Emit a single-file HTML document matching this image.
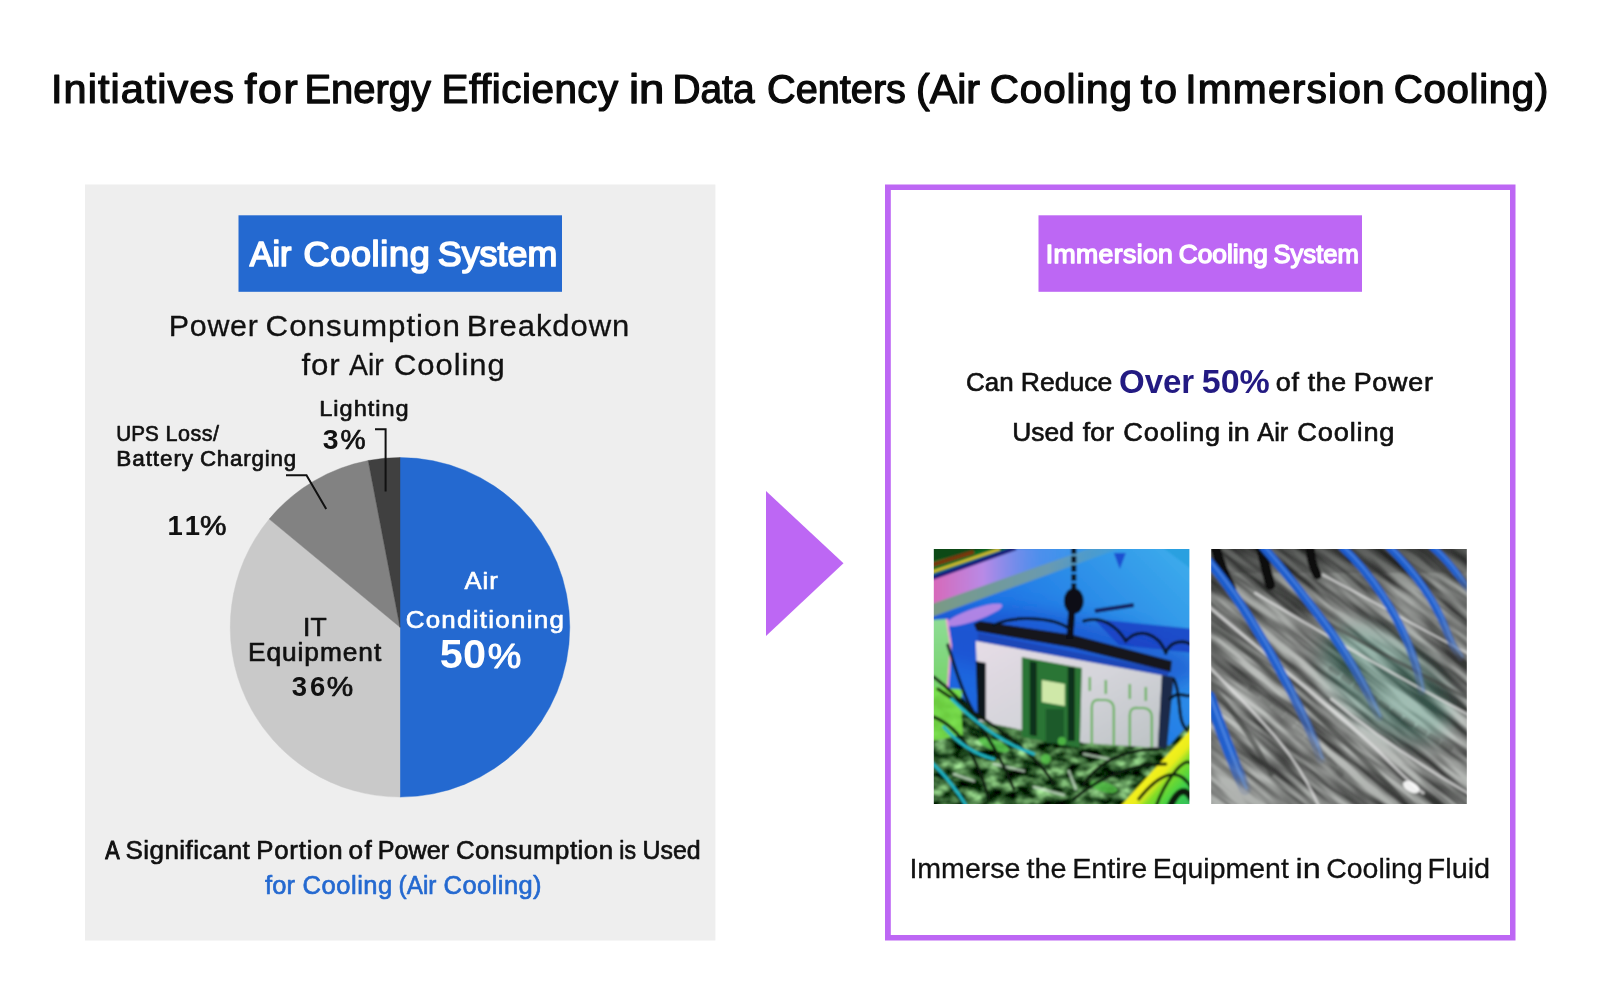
<!DOCTYPE html>
<html><head><meta charset="utf-8"><title>Initiatives for Energy Efficiency in Data Centers</title>
<style>html,body{margin:0;padding:0;background:#fff;}body{width:1600px;height:987px;overflow:hidden;font-family:"Liberation Sans", sans-serif;}svg{display:block}</style>
</head><body>
<svg width="1600" height="987" viewBox="0 0 1600 987" font-family='"Liberation Sans", sans-serif'>
<defs><filter id="noaa" filterUnits="userSpaceOnUse" x="0" y="0" width="1600" height="987"><feOffset dx="0" dy="0"/></filter>
<linearGradient id="lpBase" x1="1" y1="0" x2="0" y2="1"><stop offset="0" stop-color="#3fb0ec"/><stop offset="0.45" stop-color="#2179e6"/><stop offset="1" stop-color="#1c50d6"/></linearGradient>
<linearGradient id="lpPink" x1="0" y1="0" x2="1" y2="0"><stop offset="0" stop-color="#d868b8"/><stop offset="0.3" stop-color="#b88ae6"/><stop offset="0.62" stop-color="#5f92ee" stop-opacity="0.7"/><stop offset="1" stop-color="#4a9ff0" stop-opacity="0"/></linearGradient>
<linearGradient id="lpStripe" x1="0" y1="0" x2="1" y2="0"><stop offset="0" stop-color="#7a9a84"/><stop offset="0.6" stop-color="#6a9ab0"/><stop offset="1" stop-color="#4aa0d0" stop-opacity="0.5"/></linearGradient>
<linearGradient id="lpFace" x1="0" y1="0" x2="1" y2="1"><stop offset="0" stop-color="#e6dce6"/><stop offset="0.5" stop-color="#d4d4da"/><stop offset="1" stop-color="#bcc2c4"/></linearGradient>
<linearGradient id="lpYG" x1="0" y1="0" x2="1" y2="1"><stop offset="0.5" stop-color="#f6f21c"/><stop offset="0.585" stop-color="#e8ec1e"/><stop offset="0.66" stop-color="#7fdc28"/><stop offset="0.8" stop-color="#3fd04a"/><stop offset="1" stop-color="#2fb860"/></linearGradient>
<linearGradient id="lpLeftG" x1="0" y1="0" x2="0" y2="1"><stop offset="0" stop-color="#8fdc96"/><stop offset="1" stop-color="#62cc48"/></linearGradient>
<linearGradient id="rpBase" x1="0" y1="0" x2="0" y2="1"><stop offset="0" stop-color="#444644"/><stop offset="0.18" stop-color="#6a6c6a"/><stop offset="0.6" stop-color="#7e807e"/><stop offset="1" stop-color="#707270"/></linearGradient>
<filter id="phBlur" x="-5%" y="-5%" width="110%" height="110%"><feGaussianBlur stdDeviation="1.1"/></filter>
<filter id="phBlur3" x="-30%" y="-30%" width="160%" height="160%"><feGaussianBlur stdDeviation="9"/></filter>
<filter id="phBlur2" x="-5%" y="-5%" width="110%" height="110%"><feGaussianBlur stdDeviation="2.2"/></filter>
<filter id="gTex" color-interpolation-filters="sRGB" x="0" y="0" width="100%" height="100%">
  <feTurbulence type="fractalNoise" baseFrequency="0.06 0.10" numOctaves="4" seed="7" result="n"/>
  <feColorMatrix in="n" type="matrix" values="1.5 0 0 0 -0.53  1.8 0 0 0 -0.50  1.35 0 0 0 -0.47  0 0 0 0 1" result="c"/>
  <feComposite in="c" in2="SourceGraphic" operator="in"/>
</filter>
<filter id="rTex" color-interpolation-filters="sRGB" x="0" y="0" width="100%" height="100%">
  <feTurbulence type="fractalNoise" baseFrequency="0.012 0.11" numOctaves="3" seed="11" result="n"/>
  <feColorMatrix in="n" type="matrix" values="2.2 0 0 0 -0.55  2.2 0 0 0 -0.55  2.2 0 0 0 -0.55  0 0 0 0 1" result="c"/>
  <feComposite in="c" in2="SourceGraphic" operator="in"/>
</filter>
<clipPath id="clipL"><rect x="0" y="0" width="255.6" height="255"/></clipPath>
<clipPath id="clipR"><rect x="0" y="0" width="255.6" height="255"/></clipPath>
</defs>
<rect width="1600" height="987" fill="#ffffff"/>
<!-- left panel -->
<rect x="85" y="184.5" width="630.4" height="756" fill="#eeeeee"/>
<rect x="238.5" y="215.3" width="323.5" height="76.5" fill="#2469d0"/>
<path d="M400,627.3 L400.00,457.50 A169.8,169.8 0 0 1 400.00,797.10 Z" fill="#2469d0" stroke="#2469d0" stroke-width="0.4"/>
<path d="M400,627.3 L400.00,797.10 A169.8,169.8 0 0 1 269.17,519.07 Z" fill="#c9c9c9" stroke="#c9c9c9" stroke-width="0.4"/>
<path d="M400,627.3 L269.17,519.07 A169.8,169.8 0 0 1 368.18,460.51 Z" fill="#828282" stroke="#828282" stroke-width="0.4"/>
<path d="M400,627.3 L368.18,460.51 A169.8,169.8 0 0 1 400.00,457.50 Z" fill="#404040" stroke="#404040" stroke-width="0.4"/>
<path d="M375,429.2 H385.6 V491.4" fill="none" stroke="#111" stroke-width="2"/>
<path d="M286,475.2 H306.5 L326.2,509" fill="none" stroke="#111" stroke-width="2"/>
<!-- arrow -->
<path d="M766,491 L843.5,563.3 L766,636 Z" fill="#bd67f4"/>
<!-- right panel -->
<path d="M885,184.5 H1515.5 V940.4 H885 Z M890.8,190 V935 H1510 V190 Z" fill="#bd67f4" fill-rule="evenodd"/>
<rect x="1038.5" y="215.3" width="323.5" height="76.5" fill="#bd67f4"/>
<g transform="translate(933.8,549)" clip-path="url(#clipL)"><g filter="url(#phBlur)">
<rect x="-4" y="-4" width="264" height="264" fill="url(#lpBase)"/>
<polygon points="160,70 260,80 260,104 185,96" fill="#1a3cc2" opacity="0.8"/>
<polygon points="228,-2 260,-2 260,22" fill="#2aa0e0"/>
<ellipse cx="120" cy="100" rx="150" ry="34" transform="rotate(8 120 100)" fill="#123cc4" opacity="0.5" filter="url(#phBlur3)"/>
<!-- pink band + stripe -->
<polygon points="-2,30 84,0 170,-2 -2,58" fill="url(#lpPink)"/>
<polygon points="-2,0 78,-2 -2,26" fill="#0f6a22"/>
<polygon points="-2,-2 60,-2 -2,12" fill="#0a4a14"/><line x1="-2" y1="23" x2="66" y2="0" stroke="#d8c030" stroke-width="2.5"/>
<line x1="-2" y1="16" x2="40" y2="3" stroke="#7a3410" stroke-width="4"/>
<line x1="-2" y1="29" x2="82" y2="-1" stroke="#131d78" stroke-width="4"/>
<polygon points="-2,55 160,-2 190,-2 -2,68" fill="url(#lpStripe)"/>
<ellipse cx="40" cy="66" rx="30" ry="6" transform="rotate(-19 40 66)" fill="#c98be6" opacity="0.85"/>
<!-- left green -->
<polygon points="-2,71 13,70 17,96 14,140 28,141 30,186 -2,192" fill="url(#lpLeftG)"/>
<polyline points="13,70 17,96 14,140" fill="none" stroke="#f0a0d0" stroke-width="2"/>
<!-- bottom tangle -->
<polygon points="-2,150 14,140 30,150 45,170 226,198 236,196 260,170 260,260 -2,260" fill="#1c3a24"/>
<polygon points="-2,150 14,140 30,150 45,170 226,198 236,196 260,170 260,260 -2,260" fill="#ffffff" filter="url(#gTex)" opacity="0.9"/>
<polygon points="-2,138 26,140 29,186 -2,192" fill="#78e048" opacity="0.9"/>
<!-- box -->
<polygon points="44,84 236,122 232,130 44,94" fill="#1b46b8"/>
<polygon points="42,92 232,127 226,199 150,194 45,172" fill="url(#lpFace)"/>
<polygon points="42,112 52,114 52,172 44,170" fill="#0e161c"/>
<polygon points="88,108 148,119 146,199 88,188" fill="#2c7434"/>
<polygon points="108,131 131,135 131,157 108,153" fill="#cfe8a8"/>
<rect x="96" y="112" width="7" height="74" fill="#10331a" transform="skewY(10) translate(0,-17)"/>
<rect x="134" y="118" width="7" height="74" fill="#10331a"/>
<rect x="112" y="160" width="18" height="34" fill="#1c5a2a"/>
<g fill="none" stroke="#62b055" stroke-width="2.2">
<path d="M158,196 V158 Q158,150 166,151 H172 Q180,152 180,160 V197"/>
<path d="M196,197 V166 Q196,158 204,159 H210 Q218,160 218,168 V198"/>
<path d="M156,128 V142 M172,131 V145 M196,135 V150 M212,138 V152"/>
</g>
<polygon points="228,126 240,128 233,200 224,198" fill="#1e2c48"/>
<polygon points="40,75 46,72 140,86 238,112 237,123 140,99 43,82" fill="#15151c"/>
<!-- chain / hook -->
<line x1="140" y1="-2" x2="140" y2="40" stroke="#0b1322" stroke-width="5" stroke-dasharray="7 2"/>
<ellipse cx="140" cy="52" rx="10" ry="13" fill="#0a0f18"/>
<line x1="138" y1="62" x2="136" y2="90" stroke="#0a0f18" stroke-width="7"/>
<polygon points="180,4 192,4 186,20" fill="#1f4fd0"/>
<line x1="161" y1="62" x2="200" y2="56" stroke="#131f5c" stroke-width="4"/>
<!-- cables -->
<g fill="none" stroke="#0b1420" stroke-width="3" stroke-linecap="round">
<path d="M60,76 C80,66 120,68 136,80"/>
<path d="M150,72 C170,66 185,80 192,92 C205,78 225,84 232,104"/>
<path d="M232,104 C236,92 250,90 258,96"/>
<path d="M240,130 C250,150 240,175 258,185"/>
<path d="M236,150 C246,140 252,150 258,146"/>
<path d="M14,96 C22,120 30,150 44,170"/>
</g>
<g fill="none" stroke="#d8e8d8" stroke-width="2.5" stroke-linecap="round" opacity="0.7">
<path d="M135,222 L142,240"/><path d="M60,215 L90,222"/><path d="M100,238 L130,246"/><path d="M20,225 L40,232"/><path d="M150,205 L175,210"/>
</g>
<g fill="#58c84a" opacity="0.8"><circle cx="112" cy="210" r="5"/><circle cx="128" cy="192" r="4"/><ellipse cx="170" cy="238" rx="14" ry="5" transform="rotate(15 170 238)"/><ellipse cx="60" cy="196" rx="16" ry="5" transform="rotate(20 60 196)"/></g>
<!-- yellow-green band -->
<polygon points="184,260 260,177 260,260" fill="url(#lpYG)"/>
<g fill="none" stroke="#0b1a10" stroke-width="3" stroke-linecap="round">
<path d="M205,250 C225,225 245,215 258,240"/><path d="M236,258 C244,240 252,238 258,250" stroke-width="7"/><path d="M222,258 C230,235 250,205 258,215"/>
<path d="M150,235 C170,205 205,200 225,200"/><path d="M140,250 C170,225 200,215 232,215"/>
<path d="M0,128 C30,150 60,190 80,240"/><path d="M0,168 C30,180 45,215 55,250"/><path d="M4,140 C50,170 100,200 120,235"/>
</g>
<g fill="none" stroke="#1fb4c4" stroke-width="3" stroke-linecap="round">
<path d="M18,150 C40,172 70,195 100,205"/><path d="M-2,214 C12,226 26,246 32,256"/><path d="M10,178 C25,195 40,205 60,210"/>
</g>
</g></g>
<g transform="translate(1211.2,549)" clip-path="url(#clipR)"><g filter="url(#phBlur)">
<rect x="-4" y="-4" width="264" height="264" fill="url(#rpBase)"/>
<g transform="rotate(38 128 128)"><rect x="-80" y="-80" width="420" height="420" fill="#fff" filter="url(#rTex)" opacity="0.55" style="mix-blend-mode:overlay"/></g>
<ellipse cx="175" cy="135" rx="75" ry="42" transform="rotate(38 175 135)" fill="#2fa582" opacity="0.22" filter="url(#phBlur3)"/>
<g fill="none" stroke="#e2e2e2" stroke-linecap="round" opacity="0.75">
<path d="M-2,58 C30,85 60,110 90,135 S150,185 170,205 S200,235 212,244" stroke-width="3"/>
<path d="M44,44 C90,72 130,95 160,112 S220,146 258,166" stroke-width="2.5"/>
<path d="M-2,118 C25,145 50,170 70,195 S100,240 108,258" stroke-width="2.5"/>
<path d="M100,20 C150,45 200,75 258,105" stroke-width="2"/>
<path d="M120,150 C150,175 190,205 258,245" stroke-width="2.5"/>
</g>
<g fill="none" stroke="#3a3c3a" stroke-linecap="round" opacity="0.6">
<path d="M-2,75 C40,105 80,140 110,170 S170,225 190,250" stroke-width="5"/>
<path d="M60,40 C110,70 160,100 258,150" stroke-width="4"/>
<path d="M-2,135 C25,165 45,195 60,225" stroke-width="5"/>
<path d="M40,140 C70,160 100,190 130,225" stroke-width="6" stroke-dasharray="9 6" opacity="0.5"/>
<path d="M120,120 C150,140 190,170 240,200" stroke-width="6" stroke-dasharray="8 7" opacity="0.5"/>
</g>
<rect x="-2" y="-2" width="260" height="26" fill="#1a1a1a" opacity="0.22"/>
<g stroke="#0c0c0c" stroke-linecap="round" fill="none"><path d="M4,-2 C8,12 14,28 20,40" stroke-width="10"/><path d="M50,-2 C52,10 56,24 59,36" stroke-width="10"/><path d="M99,-2 C99,8 102,18 106,26" stroke-width="9"/><path d="M132,-2 L140,10" stroke-width="7" opacity="0.6"/></g>
<g fill="none" stroke-linecap="round"><defs><linearGradient id="cg0" gradientUnits="userSpaceOnUse" x1="0" y1="13" x2="110" y2="210"><stop offset="0" stop-color="#1d5ccc"/><stop offset="0.6" stop-color="#2260cc"/><stop offset="0.85" stop-color="#3a62b4" stop-opacity="0.75"/><stop offset="1" stop-color="#5a6c98" stop-opacity="0.25"/></linearGradient><linearGradient id="cg1" gradientUnits="userSpaceOnUse" x1="52" y1="0" x2="168" y2="168"><stop offset="0" stop-color="#1d5ccc"/><stop offset="0.6" stop-color="#2260cc"/><stop offset="0.85" stop-color="#3a62b4" stop-opacity="0.75"/><stop offset="1" stop-color="#5a6c98" stop-opacity="0.25"/></linearGradient><linearGradient id="cg2" gradientUnits="userSpaceOnUse" x1="131" y1="0" x2="211" y2="142"><stop offset="0" stop-color="#1d5ccc"/><stop offset="0.6" stop-color="#2260cc"/><stop offset="0.85" stop-color="#3a62b4" stop-opacity="0.75"/><stop offset="1" stop-color="#5a6c98" stop-opacity="0.25"/></linearGradient><linearGradient id="cg3" gradientUnits="userSpaceOnUse" x1="178" y1="0" x2="250" y2="108"><stop offset="0" stop-color="#1d5ccc"/><stop offset="0.6" stop-color="#2260cc"/><stop offset="0.85" stop-color="#3a62b4" stop-opacity="0.75"/><stop offset="1" stop-color="#5a6c98" stop-opacity="0.25"/></linearGradient><linearGradient id="cg4" gradientUnits="userSpaceOnUse" x1="221" y1="0" x2="258" y2="42"><stop offset="0" stop-color="#1d5ccc"/><stop offset="0.6" stop-color="#2260cc"/><stop offset="0.85" stop-color="#3a62b4" stop-opacity="0.75"/><stop offset="1" stop-color="#5a6c98" stop-opacity="0.25"/></linearGradient><linearGradient id="cg5" gradientUnits="userSpaceOnUse" x1="0" y1="148" x2="34" y2="240"><stop offset="0" stop-color="#1d5ccc"/><stop offset="0.6" stop-color="#2260cc"/><stop offset="0.85" stop-color="#3a62b4" stop-opacity="0.75"/><stop offset="1" stop-color="#5a6c98" stop-opacity="0.25"/></linearGradient></defs><path d="M-2,13 C25,45 55,95 79,141 S104,195 110,210" stroke="url(#cg0)" stroke-width="9"/><path d="M-2,13 C25,45 55,95 79,141 S104,195 110,210" stroke="#6a9ff0" stroke-width="2.2" opacity="0.5" transform="translate(1.2,-0.6)"/><path d="M52,-2 C80,30 115,75 131,100 S160,150 168,168" stroke="url(#cg1)" stroke-width="8.5"/><path d="M52,-2 C80,30 115,75 131,100 S160,150 168,168" stroke="#6a9ff0" stroke-width="2.1" opacity="0.5" transform="translate(1.2,-0.6)"/><path d="M131,-2 C160,25 185,65 197,95 S208,130 211,142" stroke="url(#cg2)" stroke-width="8"/><path d="M131,-2 C160,25 185,65 197,95 S208,130 211,142" stroke="#6a9ff0" stroke-width="2.0" opacity="0.5" transform="translate(1.2,-0.6)"/><path d="M178,-2 C205,25 225,55 235,81 S246,100 250,108" stroke="url(#cg3)" stroke-width="7.5"/><path d="M178,-2 C205,25 225,55 235,81 S246,100 250,108" stroke="#6a9ff0" stroke-width="1.9" opacity="0.5" transform="translate(1.2,-0.6)"/><path d="M221,-2 C238,12 250,30 258,42" stroke="url(#cg4)" stroke-width="7"/><path d="M221,-2 C238,12 250,30 258,42" stroke="#6a9ff0" stroke-width="1.8" opacity="0.5" transform="translate(1.2,-0.6)"/><path d="M-2,148 C8,175 20,210 34,240" stroke="url(#cg5)" stroke-width="12"/><path d="M-2,148 C8,175 20,210 34,240" stroke="#6a9ff0" stroke-width="3.0" opacity="0.5" transform="translate(1.2,-0.6)"/></g>
<ellipse cx="200" cy="238" rx="9" ry="5" transform="rotate(30 200 238)" fill="#ffffff" opacity="0.9"/>
</g></g>
<g filter="url(#noaa)">
<text transform="translate(51.02 102.70) scale(1.0386 1)" font-size="39.87" font-weight="normal" fill="#0a0a0a" stroke="#0a0a0a" stroke-width="1.25" stroke-linejoin="round" textLength="176.22" lengthAdjust="spacing">Initiatives</text>
<text transform="translate(244.49 102.70) scale(1.0697 1)" font-size="39.87" font-weight="normal" fill="#0a0a0a" stroke="#0a0a0a" stroke-width="1.25" stroke-linejoin="round" textLength="49.71" lengthAdjust="spacing">for</text>
<text x="304.45" y="102.70" font-size="39.87" font-weight="normal" fill="#0a0a0a" stroke="#0a0a0a" stroke-width="1.25" stroke-linejoin="round" textLength="126.48" lengthAdjust="spacingAndGlyphs">Energy</text>
<text transform="translate(441.53 102.70) scale(1.0137 1)" font-size="39.87" font-weight="normal" fill="#0a0a0a" stroke="#0a0a0a" stroke-width="1.25" stroke-linejoin="round" textLength="174.35" lengthAdjust="spacing">Efficiency</text>
<text x="628.92" y="102.70" font-size="39.87" font-weight="normal" fill="#0a0a0a" stroke="#0a0a0a" stroke-width="1.25" stroke-linejoin="round" textLength="35.39" lengthAdjust="spacingAndGlyphs">in</text>
<text x="672.49" y="102.70" font-size="39.87" font-weight="normal" fill="#0a0a0a" stroke="#0a0a0a" stroke-width="1.25" stroke-linejoin="round" textLength="82.00" lengthAdjust="spacingAndGlyphs">Data</text>
<text x="767.07" y="102.70" font-size="39.87" font-weight="normal" fill="#0a0a0a" stroke="#0a0a0a" stroke-width="1.25" stroke-linejoin="round" textLength="138.90" lengthAdjust="spacingAndGlyphs">Centers</text>
<text x="916.00" y="102.70" font-size="39.87" font-weight="normal" fill="#0a0a0a" stroke="#0a0a0a" stroke-width="1.25" stroke-linejoin="round" textLength="64.08" lengthAdjust="spacingAndGlyphs">(Air</text>
<text transform="translate(989.78 102.70) scale(1.0132 1)" font-size="39.87" font-weight="normal" fill="#0a0a0a" stroke="#0a0a0a" stroke-width="1.25" stroke-linejoin="round" textLength="140.30" lengthAdjust="spacing">Cooling</text>
<text transform="translate(1140.80 102.70) scale(1.0263 1)" font-size="39.87" font-weight="normal" fill="#0a0a0a" stroke="#0a0a0a" stroke-width="1.25" stroke-linejoin="round" textLength="35.28" lengthAdjust="spacing">to</text>
<text transform="translate(1185.19 102.70) scale(1.0224 1)" font-size="39.87" font-weight="normal" fill="#0a0a0a" stroke="#0a0a0a" stroke-width="1.25" stroke-linejoin="round" textLength="195.16" lengthAdjust="spacing">Immersion</text>
<text transform="translate(1393.68 102.70) scale(1.0096 1)" font-size="39.87" font-weight="normal" fill="#0a0a0a" stroke="#0a0a0a" stroke-width="1.25" stroke-linejoin="round" textLength="153.20" lengthAdjust="spacing">Cooling)</text>
<text x="249.80" y="265.90" font-size="35.55" font-weight="normal" fill="#ffffff" stroke="#ffffff" stroke-width="1.7" stroke-linejoin="round" textLength="41.63" lengthAdjust="spacingAndGlyphs">Air</text>
<text transform="translate(303.48 265.90) scale(1.0131 1)" font-size="35.55" font-weight="normal" fill="#ffffff" stroke="#ffffff" stroke-width="1.7" stroke-linejoin="round" textLength="124.59" lengthAdjust="spacing">Cooling</text>
<text x="437.80" y="265.90" font-size="35.55" font-weight="normal" fill="#ffffff" stroke="#ffffff" stroke-width="1.7" stroke-linejoin="round" textLength="119.49" lengthAdjust="spacingAndGlyphs">System</text>
<text transform="translate(168.69 335.85) scale(1.0017 1)" font-size="30.38" font-weight="normal" fill="#111111" stroke="#111111" stroke-width="0.3" stroke-linejoin="round" textLength="89.05" lengthAdjust="spacing">Power</text>
<text transform="translate(265.56 335.85) scale(1.0330 1)" font-size="30.38" font-weight="normal" fill="#111111" stroke="#111111" stroke-width="0.3" stroke-linejoin="round" textLength="188.10" lengthAdjust="spacing">Consumption</text>
<text transform="translate(466.65 335.85) scale(1.0212 1)" font-size="30.38" font-weight="normal" fill="#111111" stroke="#111111" stroke-width="0.3" stroke-linejoin="round" textLength="159.28" lengthAdjust="spacing">Breakdown</text>
<text transform="translate(301.58 374.50) scale(1.0289 1)" font-size="30.38" font-weight="normal" fill="#111111" stroke="#111111" stroke-width="0.3" stroke-linejoin="round" textLength="36.98" lengthAdjust="spacing">for</text>
<text x="349.03" y="374.50" font-size="30.38" font-weight="normal" fill="#111111" stroke="#111111" stroke-width="0.3" stroke-linejoin="round" textLength="34.68" lengthAdjust="spacingAndGlyphs">Air</text>
<text transform="translate(394.05 374.50) scale(1.0213 1)" font-size="30.38" font-weight="normal" fill="#111111" stroke="#111111" stroke-width="0.3" stroke-linejoin="round" textLength="108.32" lengthAdjust="spacing">Cooling</text>
<text transform="translate(319.30 416.40) scale(1.0485 1)" font-size="22.49" font-weight="normal" fill="#111111" stroke="#111111" stroke-width="0.65" stroke-linejoin="round" textLength="85.21" lengthAdjust="spacing">Lighting</text>
<text x="322.66" y="449.10" font-size="26.74" font-weight="bold" fill="#111111" textLength="15.77" lengthAdjust="spacingAndGlyphs">3</text>
<text x="340.59" y="449.10" font-size="27.21" font-weight="normal" fill="#111111" stroke="#111111" stroke-width="0.7" stroke-linejoin="round" textLength="25.10" lengthAdjust="spacingAndGlyphs">%</text>
<text x="116.37" y="441.40" font-size="21.29" font-weight="normal" fill="#111111" stroke="#111111" stroke-width="0.65" stroke-linejoin="round" textLength="42.46" lengthAdjust="spacingAndGlyphs">UPS</text>
<text transform="translate(165.54 441.40) scale(1.0120 1)" font-size="21.29" font-weight="normal" fill="#111111" stroke="#111111" stroke-width="0.65" stroke-linejoin="round" textLength="52.77" lengthAdjust="spacing">Loss/</text>
<text transform="translate(116.26 466.40) scale(1.0588 1)" font-size="21.29" font-weight="normal" fill="#111111" stroke="#111111" stroke-width="0.65" stroke-linejoin="round" textLength="72.54" lengthAdjust="spacing">Battery</text>
<text transform="translate(199.89 466.40) scale(1.0465 1)" font-size="21.29" font-weight="normal" fill="#111111" stroke="#111111" stroke-width="0.65" stroke-linejoin="round" textLength="91.99" lengthAdjust="spacing">Charging</text>
<text transform="translate(167.61 534.80) scale(1.0248 1)" font-size="26.85" font-weight="bold" fill="#111111" textLength="31.62" lengthAdjust="spacing">11</text>
<text x="199.97" y="534.80" font-size="27.21" font-weight="normal" fill="#111111" stroke="#111111" stroke-width="0.7" stroke-linejoin="round" textLength="26.48" lengthAdjust="spacingAndGlyphs">%</text>
<text transform="translate(464.51 589.40) scale(1.0723 1)" font-size="23.81" font-weight="normal" fill="#ffffff" stroke="#ffffff" stroke-width="0.65" stroke-linejoin="round" textLength="31.11" lengthAdjust="spacing">Air</text>
<text transform="translate(405.68 628.30) scale(1.0895 1)" font-size="23.81" font-weight="normal" fill="#ffffff" stroke="#ffffff" stroke-width="0.65" stroke-linejoin="round" textLength="145.15" lengthAdjust="spacing">Conditioning</text>
<text x="439.87" y="668.10" font-size="40.55" font-weight="bold" fill="#ffffff" textLength="46.15" lengthAdjust="spacingAndGlyphs">50</text>
<text x="487.89" y="668.10" font-size="35.68" font-weight="normal" fill="#ffffff" stroke="#ffffff" stroke-width="1.0" stroke-linejoin="round" textLength="33.58" lengthAdjust="spacingAndGlyphs">%</text>
<text x="303.04" y="636.20" font-size="25.10" font-weight="normal" fill="#111111" stroke="#111111" stroke-width="0.65" stroke-linejoin="round" textLength="23.57" lengthAdjust="spacingAndGlyphs">IT</text>
<text transform="translate(247.99 661.40) scale(1.0476 1)" font-size="25.10" font-weight="normal" fill="#111111" stroke="#111111" stroke-width="0.65" stroke-linejoin="round" textLength="127.16" lengthAdjust="spacing">Equipment</text>
<text transform="translate(291.71 696.30) scale(1.0277 1)" font-size="26.74" font-weight="bold" fill="#111111" textLength="32.58" lengthAdjust="spacing">36</text>
<text x="326.79" y="696.30" font-size="27.21" font-weight="normal" fill="#111111" stroke="#111111" stroke-width="0.7" stroke-linejoin="round" textLength="26.45" lengthAdjust="spacingAndGlyphs">%</text>
<text transform="translate(125.57 858.90) scale(1.0283 1)" font-size="25.32" font-weight="normal" fill="#111111" stroke="#111111" stroke-width="0.65" stroke-linejoin="round" textLength="120.81" lengthAdjust="spacing">Significant</text>
<text transform="translate(256.15 858.90) scale(1.0199 1)" font-size="25.32" font-weight="normal" fill="#111111" stroke="#111111" stroke-width="0.65" stroke-linejoin="round" textLength="84.87" lengthAdjust="spacing">Portion</text>
<text transform="translate(348.52 858.90) scale(1.0349 1)" font-size="25.32" font-weight="normal" fill="#111111" stroke="#111111" stroke-width="0.65" stroke-linejoin="round" textLength="22.37" lengthAdjust="spacing">of</text>
<text x="377.76" y="858.90" font-size="25.32" font-weight="normal" fill="#111111" stroke="#111111" stroke-width="0.65" stroke-linejoin="round" textLength="71.28" lengthAdjust="spacingAndGlyphs">Power</text>
<text transform="translate(455.95 858.90) scale(1.0186 1)" font-size="25.32" font-weight="normal" fill="#111111" stroke="#111111" stroke-width="0.65" stroke-linejoin="round" textLength="154.26" lengthAdjust="spacing">Consumption</text>
<text x="619.35" y="858.90" font-size="25.32" font-weight="normal" fill="#111111" stroke="#111111" stroke-width="0.65" stroke-linejoin="round" textLength="16.74" lengthAdjust="spacingAndGlyphs">is</text>
<text x="642.46" y="858.90" font-size="25.32" font-weight="normal" fill="#111111" stroke="#111111" stroke-width="0.65" stroke-linejoin="round" textLength="58.25" lengthAdjust="spacingAndGlyphs">Used</text>
<text x="105.23" y="858.90" font-size="25.32" font-weight="normal" fill="#111111" stroke="#111111" stroke-width="1.05" stroke-linejoin="round" textLength="14.41" lengthAdjust="spacingAndGlyphs">A</text>
<text transform="translate(265.00 893.80) scale(1.0077 1)" font-size="25.32" font-weight="normal" fill="#2469d0" stroke="#2469d0" stroke-width="0.65" stroke-linejoin="round" textLength="29.80" lengthAdjust="spacing">for</text>
<text transform="translate(302.56 893.80) scale(1.0091 1)" font-size="25.32" font-weight="normal" fill="#2469d0" stroke="#2469d0" stroke-width="0.65" stroke-linejoin="round" textLength="88.92" lengthAdjust="spacing">Cooling</text>
<text x="398.59" y="893.80" font-size="25.32" font-weight="normal" fill="#2469d0" stroke="#2469d0" stroke-width="0.65" stroke-linejoin="round" textLength="37.89" lengthAdjust="spacingAndGlyphs">(Air</text>
<text transform="translate(443.56 893.80) scale(1.0070 1)" font-size="25.32" font-weight="normal" fill="#2469d0" stroke="#2469d0" stroke-width="0.65" stroke-linejoin="round" textLength="97.39" lengthAdjust="spacing">Cooling)</text>
<text transform="translate(1045.76 262.70) scale(1.0015 1)" font-size="26.56" font-weight="normal" fill="#ffffff" stroke="#ffffff" stroke-width="1.45" stroke-linejoin="round" textLength="126.96" lengthAdjust="spacing">Immersion</text>
<text x="1178.79" y="262.70" font-size="26.56" font-weight="normal" fill="#ffffff" stroke="#ffffff" stroke-width="1.45" stroke-linejoin="round" textLength="89.03" lengthAdjust="spacingAndGlyphs">Cooling</text>
<text x="1273.45" y="262.70" font-size="26.56" font-weight="normal" fill="#ffffff" stroke="#ffffff" stroke-width="1.45" stroke-linejoin="round" textLength="85.45" lengthAdjust="spacingAndGlyphs">System</text>
<text x="966.10" y="390.70" font-size="26.52" font-weight="normal" fill="#111111" stroke="#111111" stroke-width="0.65" stroke-linejoin="round" textLength="47.59" lengthAdjust="spacingAndGlyphs">Can</text>
<text x="1020.83" y="390.70" font-size="26.52" font-weight="normal" fill="#111111" stroke="#111111" stroke-width="0.65" stroke-linejoin="round" textLength="91.56" lengthAdjust="spacingAndGlyphs">Reduce</text>
<text x="1118.98" y="393.10" font-size="32.85" font-weight="bold" fill="#231a82" textLength="75.21" lengthAdjust="spacingAndGlyphs">Over</text>
<text x="1201.83" y="393.10" font-size="32.85" font-weight="bold" fill="#231a82" textLength="67.95" lengthAdjust="spacingAndGlyphs">50%</text>
<text transform="translate(1275.77 390.70) scale(1.0153 1)" font-size="26.52" font-weight="normal" fill="#111111" stroke="#111111" stroke-width="0.65" stroke-linejoin="round" textLength="22.94" lengthAdjust="spacing">of</text>
<text transform="translate(1307.69 390.70) scale(1.0085 1)" font-size="26.52" font-weight="normal" fill="#111111" stroke="#111111" stroke-width="0.65" stroke-linejoin="round" textLength="38.05" lengthAdjust="spacing">the</text>
<text transform="translate(1353.67 390.70) scale(1.0142 1)" font-size="26.52" font-weight="normal" fill="#111111" stroke="#111111" stroke-width="0.65" stroke-linejoin="round" textLength="78.13" lengthAdjust="spacing">Power</text>
<text x="1012.22" y="441.25" font-size="26.52" font-weight="normal" fill="#111111" stroke="#111111" stroke-width="0.65" stroke-linejoin="round" textLength="61.61" lengthAdjust="spacingAndGlyphs">Used</text>
<text transform="translate(1082.82 441.25) scale(1.0040 1)" font-size="26.52" font-weight="normal" fill="#111111" stroke="#111111" stroke-width="0.65" stroke-linejoin="round" textLength="31.12" lengthAdjust="spacing">for</text>
<text transform="translate(1123.35 441.25) scale(1.0246 1)" font-size="26.52" font-weight="normal" fill="#111111" stroke="#111111" stroke-width="0.65" stroke-linejoin="round" textLength="94.49" lengthAdjust="spacing">Cooling</text>
<text x="1227.44" y="441.25" font-size="26.52" font-weight="normal" fill="#111111" stroke="#111111" stroke-width="0.65" stroke-linejoin="round" textLength="22.43" lengthAdjust="spacingAndGlyphs">in</text>
<text x="1257.29" y="441.25" font-size="26.52" font-weight="normal" fill="#111111" stroke="#111111" stroke-width="0.65" stroke-linejoin="round" textLength="30.96" lengthAdjust="spacingAndGlyphs">Air</text>
<text transform="translate(1297.35 441.25) scale(1.0266 1)" font-size="26.52" font-weight="normal" fill="#111111" stroke="#111111" stroke-width="0.65" stroke-linejoin="round" textLength="94.66" lengthAdjust="spacing">Cooling</text>
<text x="909.42" y="878.00" font-size="28.30" font-weight="normal" fill="#111111" stroke="#111111" stroke-width="0.3" stroke-linejoin="round" textLength="111.00" lengthAdjust="spacingAndGlyphs">Immerse</text>
<text x="1026.49" y="878.00" font-size="28.30" font-weight="normal" fill="#111111" stroke="#111111" stroke-width="0.3" stroke-linejoin="round" textLength="40.09" lengthAdjust="spacingAndGlyphs">the</text>
<text x="1072.18" y="878.00" font-size="28.30" font-weight="normal" fill="#111111" stroke="#111111" stroke-width="0.3" stroke-linejoin="round" textLength="74.98" lengthAdjust="spacingAndGlyphs">Entire</text>
<text x="1152.70" y="878.00" font-size="28.30" font-weight="normal" fill="#111111" stroke="#111111" stroke-width="0.3" stroke-linejoin="round" textLength="136.13" lengthAdjust="spacingAndGlyphs">Equipment</text>
<text x="1295.54" y="878.00" font-size="28.30" font-weight="normal" fill="#111111" stroke="#111111" stroke-width="0.3" stroke-linejoin="round" textLength="25.27" lengthAdjust="spacingAndGlyphs">in</text>
<text x="1326.20" y="878.00" font-size="28.30" font-weight="normal" fill="#111111" stroke="#111111" stroke-width="0.3" stroke-linejoin="round" textLength="96.55" lengthAdjust="spacingAndGlyphs">Cooling</text>
<text x="1427.64" y="878.00" font-size="28.30" font-weight="normal" fill="#111111" stroke="#111111" stroke-width="0.3" stroke-linejoin="round" textLength="62.53" lengthAdjust="spacingAndGlyphs">Fluid</text>
</g>
</svg>
</body></html>
